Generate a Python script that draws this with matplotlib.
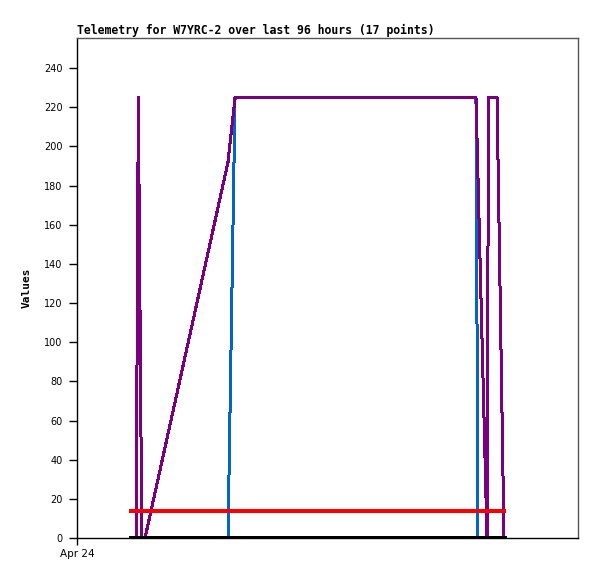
import matplotlib
matplotlib.use("Agg")
import matplotlib.pyplot as plt
import matplotlib.dates as mdates
import pandas as pd

# 17 telemetry points (timestamps shared by all channels)
times = [
    "2024-04-24 10:21", "2024-04-24 11:20", "2024-04-24 11:45", "2024-04-24 12:25",
    "2024-04-24 13:02", "2024-04-25 04:56", "2024-04-25 06:17", "2024-04-25 14:54",
    "2024-04-26 00:30", "2024-04-26 10:06", "2024-04-26 19:36", "2024-04-27 04:27",
    "2024-04-27 04:50", "2024-04-27 06:34", "2024-04-27 06:51", "2024-04-27 08:29",
    "2024-04-27 09:49",
]
purple_vals = [0, 0, 225, 0, 0, 192, 225, 225, 225, 225, 225, 225, 184, 0, 225, 225, 0]
blue_vals = [0, 0, 0, 0, 0, 0, 225, 225, 225, 225, 225, 225, 0, 0, 0, 0, 0]
red_vals = [14] * 17
black_vals = [0] * 17

x_start = "2024-04-24 00:00"
x_end = "2024-04-28 00:00"
title = "Telemetry for W7YRC-2 over last 96 hours (17 points)"

t = pd.to_datetime(times)

fig = plt.figure(figsize=(5.97, 5.79), dpi=100)
ax = fig.add_axes([77 / 597, 41 / 579, 501 / 597, 500 / 579])

ax.plot(t, blue_vals, color="#0066cc", lw=1.44, antialiased=False)
ax.plot(t, purple_vals, color="#7a0080", lw=1.44, antialiased=False)
ax.plot(t, red_vals, color="#ff0000", lw=1.65, antialiased=False)
ax.plot(t, black_vals, color="#000000", lw=2.4, antialiased=False)

ax.set_xlim(pd.Timestamp(x_start), pd.Timestamp(x_end))
ax.set_ylim(0, 255.4)
ax.set_yticks(range(0, 241, 20))
ax.set_xticks([pd.Timestamp(x_start)])
ax.xaxis.set_major_formatter(mdates.DateFormatter("%b %d"))

ax.tick_params(axis="y", length=5.5, width=1, pad=5, labelsize=7, direction="out")
ax.tick_params(axis="x", length=5, width=1, pad=3, labelsize=7.5, direction="out")

for side in ("top", "right"):
    ax.spines[side].set_color("#555555")
    ax.spines[side].set_linewidth(1)
for side in ("left", "bottom"):
    ax.spines[side].set_color("black")
    ax.spines[side].set_linewidth(1)

ax.set_title(title, loc="left", fontsize=8.3, fontweight="bold",
             family="DejaVu Sans Mono", pad=3)
ax.set_ylabel("Values", fontsize=8, fontweight="bold", family="DejaVu Sans Mono")
ax.yaxis.set_label_coords(-0.09, 0.5)

fig.savefig("out.png", dpi=100)
